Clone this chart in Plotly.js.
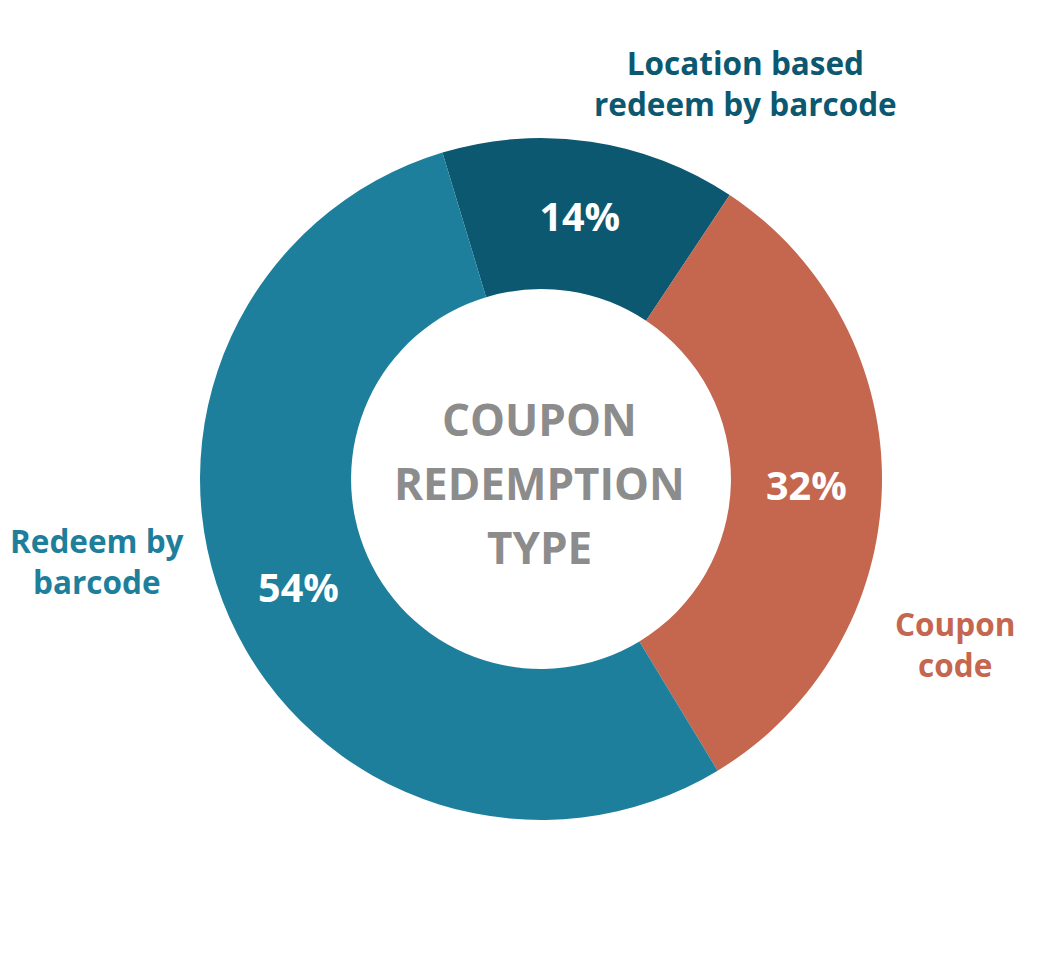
<!DOCTYPE html>
<html>
<head>
<meta charset="utf-8">
<script src="https://cdn.plot.ly/plotly-3.0.1.min.js"></script>
<style>
  html, body { margin: 0; padding: 0; background: #ffffff; }
  #chart { width: 1052px; height: 960px; }
</style>
</head>
<body>
<div id="chart"></div>
<script>
// ---- data ----
const categories = ["Location based redeem by barcode", "Coupon code", "Redeem by barcode"];
const shares = [14, 32, 54];
const sliceColors = ["#0b5870", "#c5664f", "#1e7f9c"];
const centerTitleLines = ["COUPON", "REDEMPTION", "TYPE"];
const labelLines = [
  ["Location based", "redeem by barcode"],
  ["Coupon", "code"],
  ["Redeem by", "barcode"]
];

// ---- layout helpers (pixel -> paper) ----
const W = 1052, H = 960;
const px = x => x / W;
const py = y => 1 - y / H;

const trace = {
  type: "pie",
  labels: categories,
  values: shares,
  sort: false,
  direction: "clockwise",
  rotation: -16.8,
  hole: 0.557,
  marker: { colors: sliceColors, line: { width: 0 } },
  texttemplate: "%{value}%",
  textposition: "inside",
  insidetextorientation: "horizontal",
  textfont: { family: "Open Sans", size: 39.5, color: "#ffffff", weight: 700 },
  hoverinfo: "none",
  showlegend: false,
  domain: { x: [px(200), px(882)], y: [py(820), py(138)] }
};

const annotations = [];
// center title, one annotation per line
const centerY = [418.6, 482.9, 546.9];
centerTitleLines.forEach((t, i) => {
  annotations.push({
    text: t, x: px(539), y: py(centerY[i]), xref: "paper", yref: "paper",
    xanchor: "center", yanchor: "middle", showarrow: false,
    font: { family: "Open Sans", size: 44, color: "#8c8c8c", weight: 700 }
  });
});
// outside labels
const labelPos = [
  { x: 745, y: 82.6 },
  { x: 955, y: 644.3 },
  { x: 97,  y: 560.5 }
];
labelLines.forEach((lines, k) => {
  annotations.push({
    text: lines.join("<br>"), x: px(labelPos[k].x), y: py(labelPos[k].y),
    xref: "paper", yref: "paper", align: "center",
    xanchor: "center", yanchor: "middle", showarrow: false,
    font: { family: "Open Sans", size: 31.5, color: sliceColors[k], weight: 700 }
  });
});

const layout = {
  width: W, height: H,
  margin: { l: 0, r: 0, t: 0, b: 0 },
  paper_bgcolor: "#ffffff",
  plot_bgcolor: "#ffffff",
  showlegend: false,
  annotations: annotations
};

Plotly.newPlot("chart", [trace], layout, { displayModeBar: false, staticPlot: true });
</script>
</body>
</html>
